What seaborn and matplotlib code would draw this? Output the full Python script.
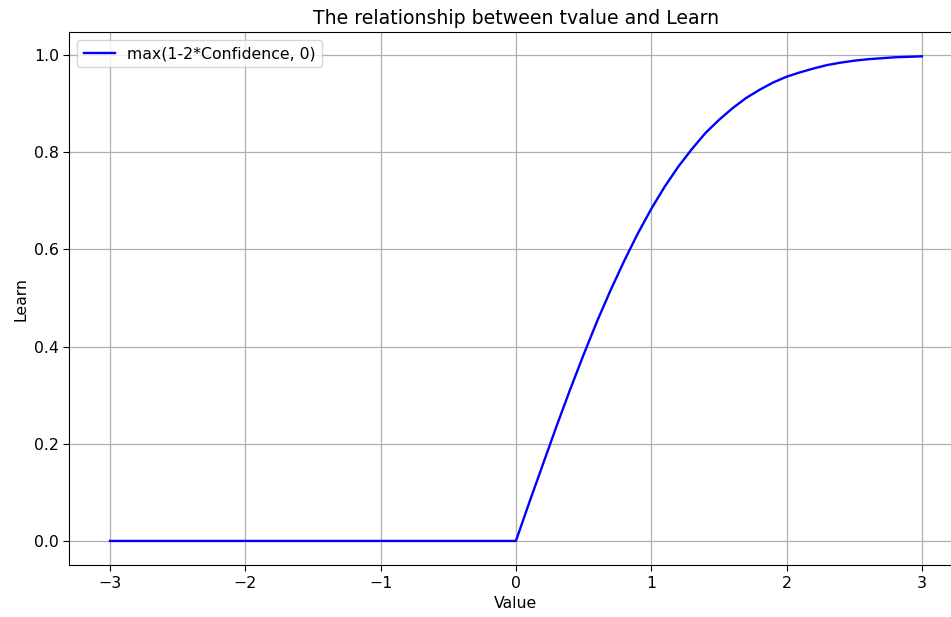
import numpy as np
import pandas as pd
import seaborn as sns
import matplotlib
matplotlib.use("Agg")
import matplotlib.pyplot as plt

# values
values = [-3.0, -2.5, -2.0, -1.5, -1.0, -0.5, 0.0,
          0.1, 0.2, 0.3, 0.4, 0.5, 0.6, 0.7, 0.8, 0.9, 1.0,
          1.1, 1.2, 1.3, 1.4, 1.5, 1.6, 1.7, 1.8, 1.9, 2.0,
          2.1, 2.2, 2.3, 2.4, 2.5, 2.6, 2.7, 2.8, 2.9, 3.0]
learn = [0.0, 0.0, 0.0, 0.0, 0.0, 0.0, 0.0,
         0.080, 0.158, 0.236, 0.311, 0.383, 0.452, 0.516, 0.576, 0.632, 0.683,
         0.729, 0.770, 0.806, 0.839, 0.866, 0.890, 0.911, 0.928, 0.943, 0.955,
         0.964, 0.972, 0.979, 0.984, 0.988, 0.991, 0.993, 0.995, 0.996, 0.997]
label = "max(1-2*Confidence, 0)"

df = pd.DataFrame({"Value": values, "Learn": learn})

# plain matplotlib look (black text), slightly larger type
plt.rcParams['font.family'] = ['DejaVu Sans']
plt.rcParams['font.size'] = 11.3
plt.rcParams['axes.titlesize'] = 13.6
plt.rcParams['xtick.major.size'] = 4
plt.rcParams['ytick.major.size'] = 4

fig = plt.figure(figsize=(9.51, 6.17), dpi=100)
# axes run past the right edge, like the cropped reference
ax = fig.add_axes([0.073, 0.084, 0.939, 0.864])
sns.lineplot(data=df, x="Value", y="Learn", color="blue", linewidth=1.7, label=label, ax=ax)
ax.set_xticks([-3, -2, -1, 0, 1, 2, 3])
ax.set_yticks([0.0, 0.2, 0.4, 0.6, 0.8, 1.0])
ax.grid(True, color="#b0b0b0", linewidth=0.9)
ax.set_title("The relationship between tvalue and Learn")
ax.set_xlabel("Value")
ax.set_ylabel("Learn")
ax.legend(loc="upper left")

fig.savefig("out.png", dpi=100)
